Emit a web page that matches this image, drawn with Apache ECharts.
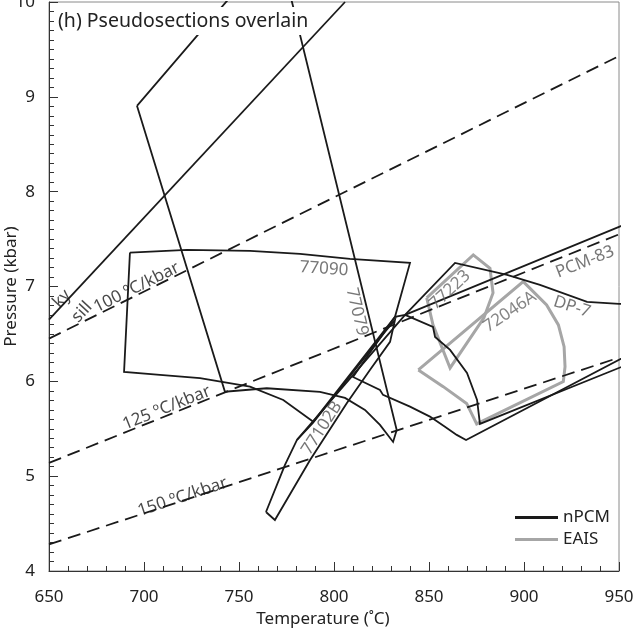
<!DOCTYPE html>
<html>
<head>
<meta charset="utf-8">
<script src="https://cdn.jsdelivr.net/npm/echarts@6/dist/echarts.min.js"></script>
<style>
  html, body { margin: 0; padding: 0; background: #fff; }
  #chart { width: 641px; height: 632px; }
</style>
</head>
<body>
<div id="chart"></div>
<script>
// All points are [temperature °C, pressure kbar].

// Kyanite / sillimanite reaction line
const kySill = [[650, 6.65], [805.8, 10.0]];

// Constant thermal-gradient lines
const grad100 = [[650, 6.45], [950, 9.43]];
const grad125 = [[650, 5.14], [950, 7.55]];
const grad150 = [[650, 4.28], [950, 6.25]];

// nPCM pseudosection fields (vertices outside the frame are clipped away)
const field77079 = [
  [696.3, 8.905], [760.3, 10.4], [773.0, 10.4], [833.0, 5.487], [831.1, 5.361],
  [824.2, 5.540], [816.3, 5.698], [805.8, 5.825], [792.6, 5.888], [764.6, 5.927],
  [742.6, 5.891], [696.3, 8.905]
];
const field77090 = [
  [692.6, 7.358], [722.6, 7.386], [755.8, 7.376], [782.1, 7.344], [808.4, 7.291],
  [840.0, 7.249], [832.1, 6.680], [789.1, 5.575], [773.3, 5.804], [755.8, 5.944],
  [729.5, 6.033], [708.4, 6.068], [689.5, 6.099], [692.6, 7.358]
];
const field77102B = [
  [764.2, 4.622], [774.2, 5.118], [780.5, 5.382], [788.9, 5.561], [826.8, 6.521],
  [832.1, 6.648], [829.5, 6.416], [818.9, 6.120], [806.8, 5.772], [787.4, 5.171],
  [768.9, 4.538], [764.2, 4.622]
];
const fieldDP7 = [
  [780.5, 5.382], [837.4, 6.700], [863.7, 7.249], [891.1, 7.122], [908.4, 7.017],
  [933.2, 6.838], [950.0, 6.817], [960.0, 6.810], [960.0, 6.222], [876.8, 5.551],
  [875.3, 5.804], [870.0, 6.089], [861.1, 6.331], [853.2, 6.468], [852.1, 6.574],
  [837.4, 6.700]
];
const fieldPCM83 = [
  [837.4, 6.700], [950.0, 7.629], [960.0, 7.710], [960.0, 6.331], [869.5, 5.382],
  [864.6, 5.435], [858.4, 5.522], [850.5, 5.628], [840.0, 5.733], [825.8, 5.857],
  [824.2, 5.909], [810.0, 6.046], [832.1, 6.680], [837.4, 6.700]
];

// EAIS pseudosection fields
const field77223 = [
  [848.8, 6.880], [873.3, 7.333], [882.1, 7.191], [883.7, 6.932], [878.9, 6.669],
  [861.1, 6.141], [852.1, 6.595], [848.8, 6.880]
];
const field72046A = [
  [844.4, 6.120], [899.6, 7.052], [911.9, 6.806], [918.1, 6.595], [921.1, 6.366],
  [921.6, 6.155], [920.7, 5.997], [875.1, 5.551], [869.8, 5.767], [857.5, 5.944],
  [844.4, 6.120]
];

// In-plot annotations: text, anchor point, angle
const noteText = ['ky', 'sill', '100 ºC/kbar', '125 ºC/kbar', '150 ºC/kbar',
  '77090', '77079', '77102B', '77223', '72046A', 'PCM-83', 'DP-7'];
const noteAt = [[656.8, 6.87], [667.4, 6.73], [696.1, 6.99], [711.9, 5.72], [720.3, 4.78],
  [794.7, 7.186], [812.1, 6.732], [793.7, 5.508], [861.1, 6.964], [892.6, 6.732],
  [932.1, 7.259], [925.3, 6.785]];
const noteAngle = [47, 47, 26.4, 21.8, 18.2, -4, -76, 57, 43, 34, 21.5, -18];

const FONT = 'Noto Sans';
const INK = '#1a1a1a';
const GREY = '#a6a6a6';
const LABEL_INK = ['#1a1a1a', '#1a1a1a', '#1a1a1a', '#1a1a1a', '#1a1a1a',
  '#555', '#555', '#555', '#666', '#666', '#555', '#555'];

function outline(name, data, color, width, z, dash) {
  return {
    type: 'line', name: name, data: data, color: color,
    symbol: 'none', showSymbol: false, clip: true, silent: true, z: z,
    lineStyle: { color: color, width: width, type: dash || 'solid', join: 'miter' },
    itemStyle: { color: color }
  };
}

const series = [
  outline('EAIS', field77223, GREY, 3, 2),
  outline('EAIS', field72046A, GREY, 3, 2),
  outline('grad100', grad100, INK, 1.8, 3, [13, 7]),
  outline('grad125', grad125, INK, 1.8, 3, [13, 7]),
  outline('grad150', grad150, INK, 1.8, 3, [13, 7]),
  outline('kySill', kySill, INK, 1.8, 3),
  outline('nPCM', field77079, INK, 1.8, 4),
  outline('nPCM', field77090, INK, 1.8, 4),
  outline('nPCM', field77102B, INK, 1.8, 4),
  outline('nPCM', fieldDP7, INK, 1.8, 4),
  outline('nPCM', fieldPCM83, INK, 1.8, 4),
  {
    type: 'scatter', name: 'notes', silent: true, z: 6,
    symbolSize: 1, itemStyle: { color: 'rgba(0,0,0,0)' },
    data: noteText.map(function (t, i) {
      return {
        value: noteAt[i],
        label: {
          show: true, position: 'inside', formatter: t, rotate: noteAngle[i],
          fontSize: 17, fontFamily: FONT, color: LABEL_INK[i],
          align: 'center', verticalAlign: 'middle'
        }
      };
    })
  }
];

const chart = echarts.init(document.getElementById('chart'), null, { renderer: 'canvas' });
chart.setOption({
  animation: false,
  backgroundColor: '#fff',
  textStyle: { fontFamily: FONT },
  title: {
    text: '(h) Pseudosections overlain',
    left: 55, top: 7, padding: [4, 3, 4, 3],
    backgroundColor: '#fff',
    textStyle: { fontSize: 19.5, fontWeight: 'normal', color: '#222', fontFamily: FONT }
  },
  legend: {
    data: ['nPCM', 'EAIS'], orient: 'vertical', left: 515, top: 509,
    padding: 0, icon: 'rect', itemWidth: 43, itemHeight: 3, itemGap: 5,
    selectedMode: false,
    textStyle: { fontSize: 17, color: '#222', fontFamily: FONT }
  },
  grid: {
    left: 49, right: 22, top: 2, bottom: 61,
    containLabel: false, outerBoundsMode: 'none',
    show: true, borderColor: '#8a8a8a', borderWidth: 1, backgroundColor: 'transparent'
  },
  xAxis: {
    type: 'value', min: 650, max: 950, interval: 50,
    axisLine: { show: true, onZero: false, lineStyle: { color: '#333', width: 1 } },
    axisTick: { show: true, inside: true, length: 9, lineStyle: { color: '#333' } },
    minorTick: { show: true, splitNumber: 5, length: 5, lineStyle: { color: '#333' } },
    splitLine: { show: false },
    axisLabel: { fontSize: 17, color: '#222', margin: 18, fontFamily: FONT },
    name: 'Temperature (˚C)', nameLocation: 'middle', nameGap: 40, nameMoveOverlap: false,
    nameTextStyle: { fontSize: 17, color: '#222', fontFamily: FONT, padding: [0, 22, 0, 0] }
  },
  yAxis: {
    type: 'value', min: 4, max: 10, interval: 1,
    axisLine: { show: true, onZero: false, lineStyle: { color: '#333', width: 1 } },
    axisTick: { show: true, inside: true, length: 9, lineStyle: { color: '#333' } },
    minorTick: { show: true, splitNumber: 10, length: 5, lineStyle: { color: '#333' } },
    splitLine: { show: false },
    axisLabel: { fontSize: 17, color: '#222', margin: 14, fontFamily: FONT },
    name: 'Pressure (kbar)', nameLocation: 'middle', nameGap: 29, nameRotate: 90, nameMoveOverlap: false,
    nameTextStyle: { fontSize: 17, color: '#222', fontFamily: FONT }
  },
  series: series
});
</script>
</body>
</html>
